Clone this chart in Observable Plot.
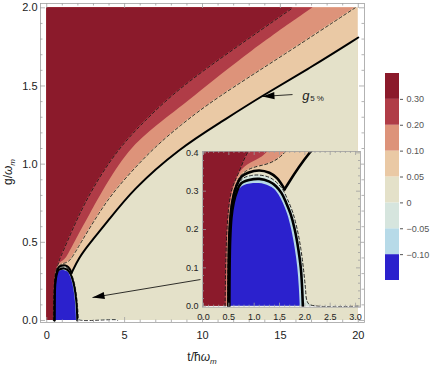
<!DOCTYPE html>
<html><head><meta charset="utf-8">
<script src="https://cdn.jsdelivr.net/npm/d3@7"></script>
<script src="https://cdn.jsdelivr.net/npm/@observablehq/plot@0.6"></script>
<style>
body{margin:0;background:#fff;}
#wrap{position:relative;width:436px;height:366px;overflow:hidden;font-family:"Liberation Sans",Arial,sans-serif;}
#wrap svg{position:absolute;}
</style></head><body><div id="wrap"></div>
<script>
// ---- contour lines: [t/ħω_m, g/ω_m] ----
const c030 = [[0.425,0],[0.435,0.10],[0.45,0.17],[0.475,0.23],[0.505,0.27],[0.545,0.30],[0.595,0.32],[0.70,0.35],[0.79,0.38],[0.86,0.40],[1.3,0.5],[1.95,0.65],[2.9,0.84],[4.5,1.09],[6.4,1.29],[8.55,1.49],[11.9,1.73],[15.8,2.0]];
const c020 = [[0.455,0],[0.46,0.10],[0.47,0.17],[0.495,0.23],[0.53,0.27],[0.57,0.30],[0.62,0.32],[0.70,0.345],[0.78,0.36],[0.95,0.375],[1.1,0.384],[1.29,0.40],[1.9,0.52],[2.8,0.68],[3.65,0.837],[5.25,1.093],[7.1,1.25],[9.2,1.41],[13.2,1.73],[17.1,2.0]];
const c010 = [[0.475,0],[0.48,0.10],[0.49,0.17],[0.515,0.23],[0.55,0.27],[0.595,0.30],[0.645,0.32],[0.72,0.34],[0.85,0.355],[0.98,0.362],[1.1,0.366],[1.3,0.372],[1.45,0.383],[1.62,0.40],[2.2,0.50],[3.3,0.68],[4.37,0.837],[6.73,1.093],[8.6,1.25],[10.7,1.412],[15.4,1.71],[19.8,2.0]];
const c005arc = [[0.49,0],[0.495,0.10],[0.505,0.17],[0.53,0.23],[0.565,0.27],[0.615,0.30],[0.67,0.32],[0.75,0.338],[0.88,0.348],[1.1,0.354],[1.3,0.348],[1.45,0.334],[1.60,0.305]];
const c005rise = [[1.60,0.305],[2.05,0.40],[2.77,0.496],[3.84,0.624],[5.5,0.837],[8.5,1.10],[11.2,1.27],[13.7,1.43],[16.9,1.615],[20,1.81]];
const c000 = [[0.50,0],[0.505,0.10],[0.515,0.17],[0.54,0.23],[0.58,0.27],[0.635,0.30],[0.69,0.32],[0.8,0.335],[0.95,0.341],[1.1,0.342],[1.3,0.336],[1.44,0.323],[1.56,0.305],[1.66,0.278],[1.76,0.245],[1.85,0.20],[1.92,0.15],[1.97,0.10],[2.01,0.05],[2.04,0.015],[2.1,0.004],[4.5,0.004],[4.55,0]];
const cm005 = [[0.51,0],[0.515,0.10],[0.525,0.17],[0.55,0.23],[0.595,0.27],[0.66,0.30],[0.74,0.32],[0.9,0.329],[1.1,0.332],[1.3,0.325],[1.43,0.313],[1.54,0.295],[1.63,0.27],[1.72,0.24],[1.80,0.20],[1.87,0.15],[1.92,0.10],[1.945,0.05],[1.96,0]];
const cm010 = [[0.515,0],[0.52,0.10],[0.53,0.17],[0.555,0.23],[0.60,0.27],[0.68,0.30],[0.81,0.315],[1.1,0.32],[1.3,0.313],[1.40,0.305],[1.49,0.29],[1.57,0.27],[1.66,0.24],[1.74,0.20],[1.81,0.15],[1.86,0.10],[1.89,0.05],[1.91,0]];

const tSpan = [0, 20];
const gSpan = [0, 2];

// legend
const legendColors = ["#2B21CD","#B7DAE8","#D6E5DE","#E4E1C9","#EAC9A5","#DD937A","#B03C47","#8B1A2B"];
const legendLabels = ["\u22120.10","\u22120.05","0","0.05","0.10","0.20","0.30"];
const [cBlue,cLBlue,cGrey,cBeige,cPeach,cSalmon,cRed,cDark] = legendColors;

// ticks
const xMajor = [0,5,10,15,20];
const yMajor = [0,0.5,1.0,1.5,2.0];
const xMinor = d3.range(0,21,1).filter(v=>v%5!==0);
const yMinor = d3.range(0,21,1).filter(v=>v%5!==0).map(v=>v/10);
const ixMajor = [0,0.5,1.0,1.5,2.0,2.5,3.0];
const iyMajor = [0,0.1,0.2,0.3,0.4];
const ixMinor = d3.range(0,31,1).filter(v=>v%5!==0).map(v=>v/10);
const iyMinor = d3.range(0,21,1).filter(v=>v%5!==0).map(v=>v/50);

// annotations
const arrows = [{t1:15.78,g1:1.445,t2:13.85,g2:1.433},{t1:9.87,g1:0.262,t2:2.94,g2:0.147}];
const gLabel = [{t:16.4,g:1.439}];

const FONT = "Liberation Sans, Arial, sans-serif";
const frameColor = "#a0a0a0";
const cr = "catmull-rom", bs = "basis";
const X = d=>d[0], Y = d=>d[1];

function regionMarks(thick, thin){
  const dash = {stroke:"#111",strokeWidth:thin,strokeDasharray:"3,2.5",clip:true};
  return [
    Plot.rect([0],{x1:tSpan[0],x2:tSpan[1],y1:gSpan[0],y2:gSpan[1],fill:cPeach,clip:true}),
    Plot.areaY(c005arc,{x:X,y1:0,y2:Y,fill:cBeige,curve:cr,clip:true}),
    Plot.areaY(c005rise,{x:X,y1:0,y2:Y,fill:cBeige,curve:bs,clip:true}),
    Plot.areaX(c010,{y:Y,x1:0,x2:X,fill:cSalmon,curve:bs,clip:true}),
    Plot.areaX(c020,{y:Y,x1:0,x2:X,fill:cRed,curve:bs,clip:true}),
    Plot.areaX(c030,{y:Y,x1:0,x2:X,fill:cDark,curve:bs,clip:true}),
    Plot.areaY(c000,{x:X,y1:0,y2:Y,fill:cGrey,curve:cr,clip:true}),
    Plot.areaY(cm005,{x:X,y1:0,y2:Y,fill:cLBlue,curve:cr,clip:true}),
    Plot.areaY(cm010,{x:X,y1:0,y2:Y,fill:cBlue,curve:cr,clip:true}),
    Plot.line(c030,{x:X,y:Y,curve:bs,...dash}),
    Plot.line(c010,{x:X,y:Y,curve:bs,...dash}),
    Plot.line(c000,{x:X,y:Y,curve:cr,...dash}),
    Plot.line(cm005,{x:X,y:Y,stroke:"#000",strokeWidth:thick,curve:cr,clip:true}),
    Plot.line(c005arc,{x:X,y:Y,stroke:"#000",strokeWidth:thick,strokeLinejoin:"round",curve:cr,clip:true}),
    Plot.line(c005rise,{x:X,y:Y,stroke:"#000",strokeWidth:thick,strokeLinejoin:"round",strokeLinecap:"round",curve:bs,clip:true})
  ];
}
function tickMarks(xMaj,xMin,yMaj,yMin,iw,ih,maj,min){
  const s = {stroke:frameColor,strokeWidth:0.8};
  return [
    Plot.tickX(xMaj,{x:d=>d,insetTop:ih-maj,...s}),
    Plot.tickX(xMaj,{x:d=>d,insetBottom:ih-maj,...s}),
    Plot.tickX(xMin,{x:d=>d,insetTop:ih-min,...s}),
    Plot.tickX(xMin,{x:d=>d,insetBottom:ih-min,...s}),
    Plot.tickY(yMaj,{y:d=>d,insetRight:iw-maj,...s}),
    Plot.tickY(yMaj,{y:d=>d,insetLeft:iw-maj,...s}),
    Plot.tickY(yMin,{y:d=>d,insetRight:iw-min,...s}),
    Plot.tickY(yMin,{y:d=>d,insetLeft:iw-min,...s})
  ];
}

// main layout
const W=436,H=366, mL=40,mR=72,mT=3,mB=44;
const xDom=[-0.4,20.4], yDom=[-0.0128,2.0275];
const iW=W-mL-mR, iH=H-mT-mB;
const kx=iW/(xDom[1]-xDom[0]), ky=iH/(yDom[1]-yDom[0]);
const headSym = {draw(ctx){ctx.moveTo(0,0);ctx.lineTo(3.6,12);ctx.lineTo(-3.6,12);ctx.closePath();}};
const rot = d => Math.atan2(-(d.g2-d.g1)*ky,(d.t2-d.t1)*kx)*180/Math.PI+90;

const main = Plot.plot({
  width:W,height:H,marginLeft:mL,marginRight:mR,marginTop:mT,marginBottom:mB,
  x:{domain:xDom},y:{domain:yDom},
  style:{background:"white",fontFamily:FONT,fontSize:"11px",color:"#222"},
  marks:[
    ...regionMarks(2,0.8),
    Plot.frame({stroke:frameColor,strokeWidth:0.8}),
    ...tickMarks(xMajor,xMinor,yMajor,yMinor,iW,iH,5,2.5),
    Plot.axisX(xMajor,{tickSize:0,tickPadding:9,tickFormat:d=>String(d),label:null,fontSize:11}),
    Plot.axisY(yMajor,{tickSize:0,tickPadding:3,tickFormat:d3.format(".1f"),label:null,fontSize:11}),
    Plot.link(arrows,{x1:"t1",y1:"g1",x2:"t2",y2:"g2",stroke:"#000",strokeWidth:0.8}),
    Plot.dot(arrows,{x:"t2",y:"g2",symbol:headSym,rotate:rot,fill:"#000",stroke:"none"}),
    Plot.text(gLabel,{x:"t",y:"g",text:()=>"g",fontStyle:"italic",fontSize:13,textAnchor:"start",fill:"#222"}),
    Plot.text(gLabel,{x:"t",y:"g",text:()=>"5 %",fontSize:8,dx:8,dy:3,textAnchor:"start",fill:"#222"})
  ]
});
main.style.left="0px"; main.style.top="0px";
const ms = d3.select(main);
const xl = ms.append("text").attr("x",mL+iW/2).attr("y",361).attr("text-anchor","middle")
  .attr("font-size",12).attr("fill","#222").attr("font-family",FONT);
xl.append("tspan").text("t/\u0127");
xl.append("tspan").attr("font-style","italic").text("\u03c9");
xl.append("tspan").attr("font-style","italic").attr("font-size",8).attr("dy",3).text("m");
const yl = ms.append("text").attr("transform","translate(12,172) rotate(-90)").attr("text-anchor","middle")
  .attr("font-size",12).attr("fill","#222").attr("font-family",FONT);
yl.append("tspan").text("g/");
yl.append("tspan").attr("font-style","italic").text("\u03c9");
yl.append("tspan").attr("font-style","italic").attr("font-size",8).attr("dy",3).text("m");
document.getElementById("wrap").appendChild(main);

// inset
const IW=200,IH=200,imL=32,imR=10,imT=21,imB=23.3;
const iiW=IW-imL-imR, iiH=IH-imT-imB;
const inset = Plot.plot({
  width:IW,height:IH,marginLeft:imL,marginRight:imR,marginTop:imT,marginBottom:imB,
  x:{domain:[-0.02,3.098]},y:{domain:[-0.0026,0.4035]},
  style:{background:"none",fontFamily:FONT,fontSize:"9px",color:"#222"},
  marks:[
    Plot.frame({fill:"white"}),
    ...regionMarks(2.6,0.9),
    Plot.frame({stroke:frameColor,strokeWidth:0.8}),
    ...tickMarks(ixMajor,ixMinor,iyMajor,iyMinor,iiW,iiH,4,2),
    Plot.axisX(ixMajor,{tickSize:0,tickPadding:6,tickFormat:d3.format(".1f"),label:null,fontSize:9}),
    Plot.axisY(iyMajor,{tickSize:0,tickPadding:4,tickFormat:d3.format(".1f"),label:null,fontSize:9})
  ]
});
inset.style.left="170px"; inset.style.top="130px";
document.getElementById("wrap").appendChild(inset);

// legend
const legend = Plot.plot({
  width:58,height:240,marginLeft:7,marginRight:37,marginTop:13,marginBottom:20,
  x:{domain:[0,1],axis:null},y:{domain:[0,8]},color:{type:"identity"},
  style:{background:"none",fontFamily:FONT,fontSize:"9px"},
  marks:[
    Plot.rect(legendColors,{x1:0,x2:1,y1:(d,i)=>i,y2:(d,i)=>i+1,fill:d=>d}),
    Plot.axisY(d3.range(1,8),{anchor:"right",tickSize:3,tickPadding:4,tickFormat:d=>legendLabels[d-1],label:null,color:"#555",fontSize:9})
  ]
});
legend.style.left="378px"; legend.style.top="60px";
document.getElementById("wrap").appendChild(legend);
</script></body></html>
